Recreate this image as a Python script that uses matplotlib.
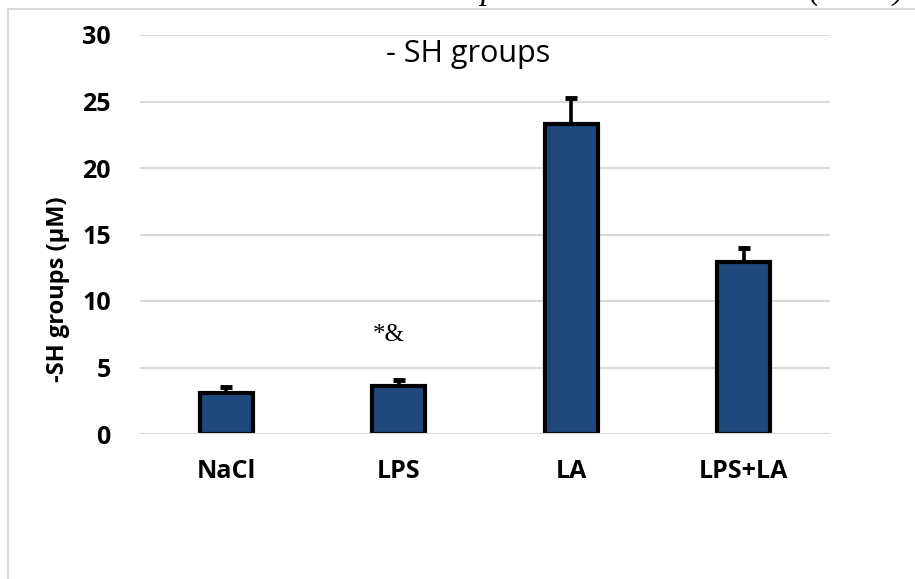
"""-SH groups bar chart (mean ± SEM)."""

import matplotlib.pyplot as plt
from matplotlib.lines import Line2D

groups = ["NaCl", "LPS", "LA", "LPS+LA"]
sh_mean = [3.1, 3.6, 23.3, 12.9]
sh_sem = [0.45, 0.45, 1.95, 1.1]
y_ticks = [0, 5, 10, 15, 20, 25, 30]
marks = {1: "*&"}

BAR_COLOR = "#1f497d"
GRID_COLOR = "#d9d9d9"
SANS = ["Open Sans", "DejaVu Sans"]
SERIF = ["Liberation Serif", "DejaVu Serif"]

plt.rcParams["font.family"] = SANS


def main():
    fig = plt.figure(figsize=(9.15, 5.79), dpi=100)
    ax = fig.add_axes([140 / 915, 145 / 579, 690 / 915, 399 / 579])

    x = range(len(groups))
    ax.bar(x, sh_mean, width=0.31, color=BAR_COLOR, edgecolor="black",
           linewidth=3, zorder=3)
    ax.errorbar(x, sh_mean, yerr=[[0] * len(sh_sem), sh_sem], fmt="none",
                ecolor="black", elinewidth=2.6, capsize=4.5, capthick=3.5,
                zorder=2)
    # zero gridline sits over the bar bottoms
    ax.axhline(0, color=GRID_COLOR, lw=1.5, zorder=4)

    for i, txt in marks.items():
        ax.text(i - 0.06, sh_mean[i] + sh_sem[i] + 3.4, txt, ha="center",
                va="center", fontsize=18, family=SERIF)

    ax.set_xlim(-0.5, len(groups) - 0.5)
    ax.set_ylim(0, 30)
    ax.set_yticks(y_ticks)
    ax.set_xticks(list(x))
    ax.set_xticklabels(groups)
    ax.tick_params(axis="both", length=0, labelsize=18)
    ax.tick_params(axis="y", pad=21)
    ax.tick_params(axis="x", pad=18)
    for lbl in ax.get_xticklabels() + ax.get_yticklabels():
        lbl.set_fontweight("bold")
    ax.grid(axis="y", color=GRID_COLOR, lw=1.5, zorder=0)
    ax.set_axisbelow(True)
    for s in ax.spines.values():
        s.set_visible(False)

    fig.text(468 / 915, 1 - 54 / 579, "- SH groups", ha="center",
             va="center", fontsize=22)
    fig.text(58 / 915, 1 - 289 / 579, "-SH groups (µM)", rotation=90,
             ha="center", va="center", fontsize=17, fontweight="bold")

    # chart area border (left and top edges visible)
    fig.add_artist(Line2D([8 / 915, 8 / 915], [0, 1 - 9 / 579],
                          transform=fig.transFigure, color=GRID_COLOR, lw=1.5))
    fig.add_artist(Line2D([8 / 915, 1], [1 - 9 / 579, 1 - 9 / 579],
                          transform=fig.transFigure, color=GRID_COLOR, lw=1.5))

    # caption line of the page, cut off by the crop
    fig.text(-242 / 915, 1 + 1 / 579,
             "Values of nitrogen and oxidative stress markers are expressed "
             "as mean ± SEM (n = 6)",
             ha="left", va="baseline", fontsize=24, style="italic",
             family=SERIF)

    fig.savefig("out.png", dpi=100)


if __name__ == "__main__":
    main()
